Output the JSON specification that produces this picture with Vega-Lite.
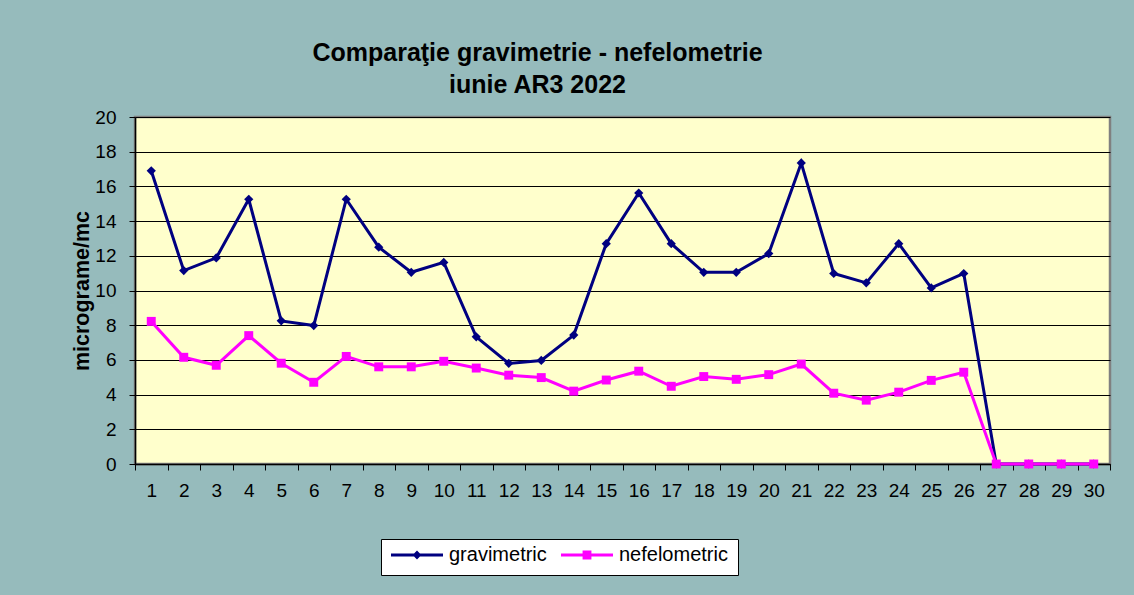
{
  "$schema": "https://vega.github.io/schema/vega-lite/v6.json",
  "width": 975,
  "height": 347,
  "autosize": {"type": "none"},
  "padding": {"left": 135, "top": 117, "right": 24, "bottom": 131},
  "background": "#96BBBC",
  "config": {
    "font": "Liberation Sans",
    "view": {"fill": "#FFFFCC", "stroke": "#808080", "strokeWidth": 2.5},
    "legend": {
      "orient": "none",
      "legendX": 246,
      "legendY": 422,
      "direction": "horizontal",
      "fillColor": "white",
      "strokeColor": "black",
      "padding": 10,
      "labelFont": "Liberation Sans",
      "labelFontSize": 20,
      "labelColor": "black",
      "labelOffset": 6,
      "columnPadding": 14,
      "clipHeight": 12,
      "symbolSize": 2704,
      "symbolStrokeWidth": 0,
      "symbolOpacity": 1
    }
  },
  "title": {
    "text": ["Comparaţie gravimetrie - nefelometrie", "iunie AR3 2022"],
    "font": "Liberation Sans",
    "fontSize": 25,
    "fontWeight": "bold",
    "color": "black",
    "lineHeight": 32,
    "anchor": "middle",
    "frame": "group",
    "dx": -85,
    "offset": 10
  },
  "data": {
    "values": [
      {"day": 1, "series": "gravimetric", "value": 16.9},
      {"day": 2, "series": "gravimetric", "value": 11.15},
      {"day": 3, "series": "gravimetric", "value": 11.88},
      {"day": 4, "series": "gravimetric", "value": 15.26},
      {"day": 5, "series": "gravimetric", "value": 8.25},
      {"day": 6, "series": "gravimetric", "value": 7.98},
      {"day": 7, "series": "gravimetric", "value": 15.26},
      {"day": 8, "series": "gravimetric", "value": 12.5},
      {"day": 9, "series": "gravimetric", "value": 11.05},
      {"day": 10, "series": "gravimetric", "value": 11.62},
      {"day": 11, "series": "gravimetric", "value": 7.33},
      {"day": 12, "series": "gravimetric", "value": 5.8},
      {"day": 13, "series": "gravimetric", "value": 5.97},
      {"day": 14, "series": "gravimetric", "value": 7.43},
      {"day": 15, "series": "gravimetric", "value": 12.7},
      {"day": 16, "series": "gravimetric", "value": 15.62},
      {"day": 17, "series": "gravimetric", "value": 12.7},
      {"day": 18, "series": "gravimetric", "value": 11.05},
      {"day": 19, "series": "gravimetric", "value": 11.05},
      {"day": 20, "series": "gravimetric", "value": 12.13},
      {"day": 21, "series": "gravimetric", "value": 17.35},
      {"day": 22, "series": "gravimetric", "value": 10.98},
      {"day": 23, "series": "gravimetric", "value": 10.44},
      {"day": 24, "series": "gravimetric", "value": 12.7},
      {"day": 25, "series": "gravimetric", "value": 10.15},
      {"day": 26, "series": "gravimetric", "value": 10.98},
      {"day": 27, "series": "gravimetric", "value": 0},
      {"day": 28, "series": "gravimetric", "value": 0},
      {"day": 29, "series": "gravimetric", "value": 0},
      {"day": 30, "series": "gravimetric", "value": 0},
      {"day": 1, "series": "nefelometric", "value": 8.22},
      {"day": 2, "series": "nefelometric", "value": 6.15},
      {"day": 3, "series": "nefelometric", "value": 5.69},
      {"day": 4, "series": "nefelometric", "value": 7.4},
      {"day": 5, "series": "nefelometric", "value": 5.81},
      {"day": 6, "series": "nefelometric", "value": 4.71},
      {"day": 7, "series": "nefelometric", "value": 6.2},
      {"day": 8, "series": "nefelometric", "value": 5.6},
      {"day": 9, "series": "nefelometric", "value": 5.6},
      {"day": 10, "series": "nefelometric", "value": 5.92},
      {"day": 11, "series": "nefelometric", "value": 5.53},
      {"day": 12, "series": "nefelometric", "value": 5.12},
      {"day": 13, "series": "nefelometric", "value": 4.98},
      {"day": 14, "series": "nefelometric", "value": 4.2},
      {"day": 15, "series": "nefelometric", "value": 4.84},
      {"day": 16, "series": "nefelometric", "value": 5.35},
      {"day": 17, "series": "nefelometric", "value": 4.48},
      {"day": 18, "series": "nefelometric", "value": 5.04},
      {"day": 19, "series": "nefelometric", "value": 4.88},
      {"day": 20, "series": "nefelometric", "value": 5.15},
      {"day": 21, "series": "nefelometric", "value": 5.76},
      {"day": 22, "series": "nefelometric", "value": 4.08},
      {"day": 23, "series": "nefelometric", "value": 3.68},
      {"day": 24, "series": "nefelometric", "value": 4.14},
      {"day": 25, "series": "nefelometric", "value": 4.82},
      {"day": 26, "series": "nefelometric", "value": 5.29},
      {"day": 27, "series": "nefelometric", "value": 0},
      {"day": 28, "series": "nefelometric", "value": 0},
      {"day": 29, "series": "nefelometric", "value": 0},
      {"day": 30, "series": "nefelometric", "value": 0}
    ]
  },
  "encoding": {
    "x": {
      "field": "day",
      "type": "ordinal",
      "scale": {"type": "band", "paddingInner": 0, "paddingOuter": 0},
      "axis": {
        "title": null,
        "labelAngle": 0,
        "labelFont": "Liberation Sans",
        "labelFontSize": 19,
        "labelColor": "black",
        "labelPadding": 11,
        "domainColor": "black",
        "domainWidth": 1.5,
        "tickColor": "black",
        "tickWidth": 1,
        "tickSize": 6,
        "tickBand": "extent",
        "grid": false
      }
    },
    "y": {
      "field": "value",
      "type": "quantitative",
      "scale": {"domain": [0, 20], "nice": false},
      "axis": {
        "title": "micrograme/mc",
        "titleFont": "Liberation Sans",
        "titleFontSize": 21.5,
        "titleFontWeight": "bold",
        "titleColor": "black",
        "titlePadding": 1,
        "values": [0, 2, 4, 6, 8, 10, 12, 14, 16, 18, 20],
        "labelFont": "Liberation Sans",
        "labelFontSize": 19,
        "labelColor": "black",
        "labelPadding": 13,
        "tickSize": 6,
        "tickColor": "black",
        "tickWidth": 1,
        "domainColor": "black",
        "domainWidth": 1.5,
        "grid": true,
        "gridColor": "black",
        "gridWidth": 1,
        "gridOpacity": 1
      }
    },
    "color": {
      "field": "series",
      "type": "nominal",
      "scale": {"domain": ["gravimetric", "nefelometric"], "range": ["#000080", "#FF00FF"]},
      "legend": {"title": null}
    }
  },
  "layer": [
    {"mark": {"type": "line", "strokeWidth": 3}},
    {
      "transform": [{"filter": "datum.series === 'gravimetric'"}],
      "mark": {"type": "point", "filled": true, "shape": "diamond", "size": 85, "opacity": 1}
    },
    {
      "transform": [{"filter": "datum.series === 'nefelometric'"}],
      "mark": {"type": "point", "filled": true, "shape": "square", "size": 80, "opacity": 1}
    },
    {
      "transform": [{"filter": "datum.day < 0"}],
      "mark": {"type": "point", "filled": true, "opacity": 1},
      "encoding": {
        "shape": {
          "field": "series",
          "type": "nominal",
          "scale": {
            "domain": ["gravimetric", "nefelometric"],
            "range": [
              "M-1,-0.055H1V0.055H-1Z M0,-0.17L0.17,0L0,0.17L-0.17,0Z",
              "M-1,-0.055H1V0.055H-1Z M-0.17,-0.17H0.17V0.17H-0.17Z"
            ]
          },
          "legend": {"title": null}
        }
      }
    }
  ]
}
